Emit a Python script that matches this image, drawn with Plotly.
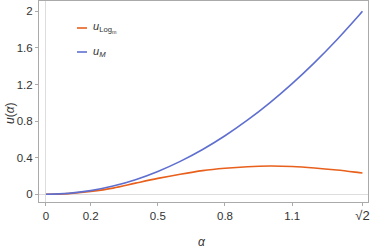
import plotly.graph_objects as go

alpha = [0, 0.1, 0.2, 0.3, 0.4, 0.5, 0.6, 0.7, 0.8, 0.9, 1.0, 1.1, 1.2, 1.3, 1.4, 1.41421]
u_log = [0, 0.008, 0.032, 0.068, 0.122, 0.174, 0.220, 0.259, 0.285, 0.302, 0.309, 0.304, 0.288, 0.265, 0.237, 0.233]
u_m = [0, 0.01, 0.04, 0.09, 0.16, 0.25, 0.36, 0.49, 0.64, 0.81, 1.0, 1.21, 1.44, 1.69, 1.96, 2.0]

x_tickvals = [0, 0.2, 0.5, 0.8, 1.1, 1.41421]
x_ticktext = ["0", "0.2", "0.5", "0.8", "1.1", "<span style='font-size:13px'>√2</span>"]
y_tickvals = [0, 0.4, 0.8, 1.2, 1.6, 2]
y_ticktext = ["0", "0.4", "0.8", "1.2", "1.6", "2"]

ORANGE = "#E8601C"
BLUE = "#5F6FD0"
FONT = "Liberation Sans, Arial, sans-serif"

fig = go.Figure()
fig.add_trace(go.Scatter(x=alpha, y=u_log, mode="lines", line=dict(color=ORANGE, width=1.6, shape="spline"), showlegend=False))
fig.add_trace(go.Scatter(x=alpha, y=u_m, mode="lines", line=dict(color=BLUE, width=1.6, shape="spline"), showlegend=False))

W, H = 374, 251
L, R, T, B = 39, 6, 1, 49

fig.update_layout(
    width=W, height=H,
    margin=dict(l=L, r=R, t=T, b=B),
    paper_bgcolor="white", plot_bgcolor="white",
    font=dict(family=FONT, size=11, color="#333333"),
    xaxis=dict(range=[-0.031, 1.439], tickvals=x_tickvals, ticktext=x_ticktext,
               showgrid=False, zeroline=True, zerolinecolor="#dddddd", zerolinewidth=1,
               showline=True, linecolor="#aaaaaa", linewidth=1, mirror=True, ticklabeloverflow="allow",
               ticks="outside", ticklen=3, tickcolor="#aaaaaa", tickfont=dict(size=11.5, color="#333333")),
    yaxis=dict(range=[-0.084, 2.113], tickvals=y_tickvals, ticktext=y_ticktext,
               showgrid=False, zeroline=True, zerolinecolor="#dddddd", zerolinewidth=1,
               showline=True, linecolor="#aaaaaa", linewidth=1, mirror=True,
               ticks="outside", ticklen=3, tickcolor="#aaaaaa", tickfont=dict(size=11.5, color="#333333")),
)

pw, ph = W - L - R, H - T - B
def px(x):
    return (x - L) / pw
def py(y):
    return 1 - (y - T) / ph

# Axis titles
fig.add_annotation(text="<i>α</i>", xref="paper", yref="paper", x=px(202), y=py(242),
                   showarrow=False, font=dict(size=12, color="#333333"), xanchor="center", yanchor="middle")
fig.add_annotation(text="<i>u</i>(<i>α</i>)", xref="paper", yref="paper", x=px(10), y=py(113),
                   showarrow=False, textangle=-90, font=dict(size=12, color="#333333"), xanchor="center", yanchor="middle")

# Legend (manual)
for yy, col in [(28, ORANGE), (52, BLUE)]:
    fig.add_shape(type="line", xref="paper", yref="paper", x0=px(77), x1=px(87), y0=py(yy), y1=py(yy),
                  line=dict(color=col, width=1.6))
fig.add_annotation(text="<i>u</i><sub>Log<sub>m</sub></sub>", xref="paper", yref="paper", x=px(91), y=py(28),
                   showarrow=False, xanchor="left", yanchor="middle", font=dict(size=11, color="#333333"))
fig.add_annotation(text="<i>u<sub>M</sub></i>", xref="paper", yref="paper", x=px(91), y=py(52),
                   showarrow=False, xanchor="left", yanchor="middle", font=dict(size=11, color="#333333"))

fig.write_html("out.html", config={"displayModeBar": False},
               post_script="document.body.style.margin='0';document.body.style.overflow='hidden';")
